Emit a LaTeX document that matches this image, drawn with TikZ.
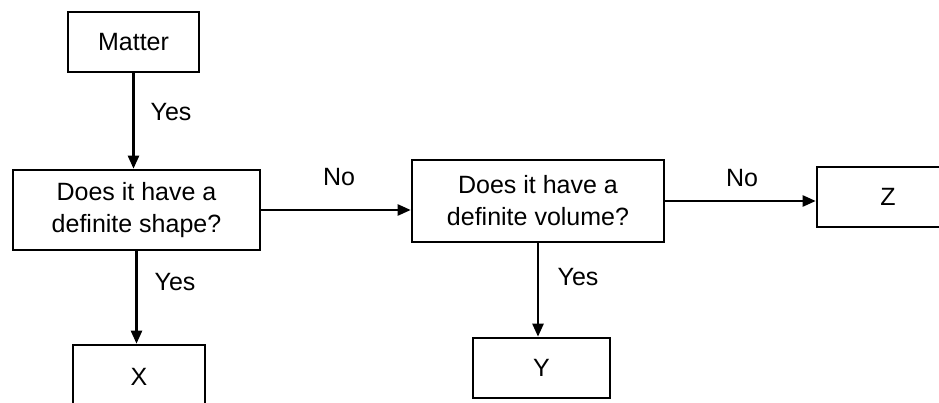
\documentclass[tikz,border=0pt]{standalone}
\usepackage{fontspec}
\setmainfont{Liberation Sans}
\usetikzlibrary{arrows.meta}
\begin{document}
\begin{tikzpicture}[x=1pt,y=-1pt,
  every node/.style={font=\fontsize{25}{32}\selectfont},
  box/.style={draw=black,line width=2.6pt,rectangle,inner sep=0pt,align=center},
  arr/.style={draw=black,line width=2.4pt,-{Triangle[length=13pt,width=11pt]}},
  lbl/.style={inner sep=0pt}]
\useasboundingbox (0,0) rectangle (939,403);
\clip (0,0) rectangle (939,403);
\node[box,minimum width=131pt,minimum height=60pt] (matter) at (133.5,42) {Matter};
\node[box,minimum width=247pt,minimum height=80pt] (shape) at (136.5,210) {Does it have a\\definite shape?};
\node[box,minimum width=252pt,minimum height=82pt] (volume) at (538,201) {Does it have a\\definite volume?};
\node[box,minimum width=142pt,minimum height=60pt] (z) at (888,197) {Z};
\node[box,minimum width=132pt,minimum height=64pt] (x) at (139,377) {X};
\node[box,minimum width=137pt,minimum height=60pt] (y) at (541.5,368) {Y};
\draw[arr] (matter.south) -- (matter.south |- shape.north);
\draw[arr] (shape.east) -- (shape.east -| volume.west);
\draw[arr] (volume.east) -- (volume.east -| z.west);
\draw[arr] (shape.south) -- (shape.south |- x.north);
\draw[arr] (volume.south) -- (volume.south |- y.north);
\node[lbl] (l1) at (171,112) {Yes};
\node[lbl] (l2) at (339,177) {No};
\node[lbl] (l3) at (742,178) {No};
\node[lbl] (l4) at (175,282) {Yes};
\node[lbl] (l5) at (578,277) {Yes};
\end{tikzpicture}
\end{document}
